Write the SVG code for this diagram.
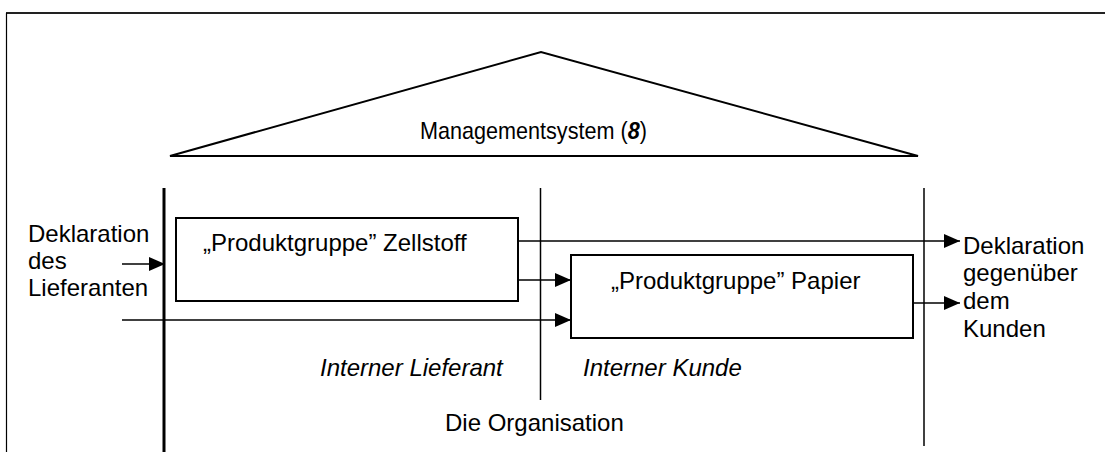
<svg xmlns="http://www.w3.org/2000/svg" width="1105" height="452" viewBox="0 0 1105 452">
<style>
text{font-family:"Liberation Sans",Arial,sans-serif;font-size:24px;fill:#000}
.it{font-style:italic}
.ln{stroke:#000;stroke-width:1.5;fill:none}
.box{stroke:#000;stroke-width:2;fill:#fff}
</style>
<defs>
<marker id="ah" viewBox="0 0 16 14" refX="16" refY="7" markerWidth="16" markerHeight="14" markerUnits="userSpaceOnUse" orient="auto">
<path d="M0,0 L16,7 L0,14 Z" fill="#000"/>
</marker>
</defs>
<rect width="1105" height="452" fill="#fff"/>
<g id="frame">
<line x1="6" y1="13" x2="1105" y2="13" stroke="#222" stroke-width="2"/>
<line x1="6.5" y1="13" x2="6.5" y2="452" stroke="#000" stroke-width="1.2"/>
</g>
<g id="managementsystem">
<polygon points="170,156 541,52 918,156" fill="none" stroke="#000" stroke-width="2"/>
<text transform="translate(420,139) scale(0.9,1)" font-size="23">Managementsystem (<tspan font-weight="bold" font-style="italic">8</tspan>)</text>
</g>
<g id="organisation">
<line x1="164" y1="188" x2="164" y2="452" stroke="#000" stroke-width="3"/>
<line class="ln" x1="540.5" y1="188" x2="540.5" y2="400"/>
<line class="ln" x1="924" y1="188" x2="924" y2="446"/>
<text x="445" y="431">Die Organisation</text>
</g>
<g id="zellstoff">
<rect class="box" x="176" y="218" width="342" height="83"/>
<text x="203" y="251">„Produktgruppe” Zellstoff</text>
</g>
<g id="papier">
<rect class="box" x="571" y="255" width="342" height="83"/>
<text x="611" y="289">„Produktgruppe” Papier</text>
</g>
<g id="lieferant-label"><text class="it" x="320" y="376">Interner Lieferant</text></g>
<g id="kunde-label"><text class="it" x="583" y="376">Interner Kunde</text></g>
<g id="decl-in">
<text x="28" y="242">Deklaration</text>
<text x="28" y="269">des</text>
<text x="28" y="296">Lieferanten</text>
</g>
<g id="decl-out">
<text x="963" y="254">Deklaration</text>
<text x="963" y="281">gegenüber</text>
<text x="963" y="309">dem</text>
<text x="963" y="337">Kunden</text>
</g>
<g id="connectors">
<line class="ln" x1="518" y1="241" x2="960" y2="241" marker-end="url(#ah)"/>
<line class="ln" x1="122" y1="264" x2="165" y2="264" marker-end="url(#ah)"/>
<line class="ln" x1="518" y1="280" x2="571" y2="280" marker-end="url(#ah)"/>
<line class="ln" x1="122" y1="320" x2="571" y2="320" marker-end="url(#ah)"/>
<line class="ln" x1="913" y1="303" x2="960" y2="303" marker-end="url(#ah)"/>
</g>
</svg>
